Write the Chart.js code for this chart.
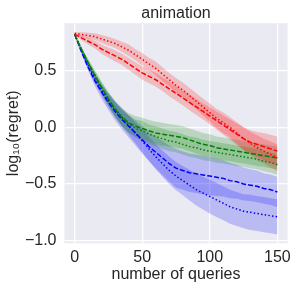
<!DOCTYPE html>
<html>
<head>
<meta charset="utf-8">
<script src="https://cdn.jsdelivr.net/npm/chart.js@4"></script>
<style>
  body { margin: 0; background: #fff; }
</style>
</head>
<body>
<canvas id="regret_chart" width="297" height="290"></canvas>
<script>
// number of queries (sampled every 5)
var queries = [0, 5, 10, 15, 20, 25, 30, 35, 40, 45, 50, 55, 60, 65, 70, 75, 80, 85, 90, 95, 100, 105, 110, 115, 120, 125, 130, 135, 140, 145, 150];

// log10(regret) means
var red_dash = [0.82, 0.79, 0.76, 0.73, 0.69, 0.66, 0.63, 0.60, 0.56, 0.52, 0.48, 0.45, 0.42, 0.38, 0.34, 0.30, 0.26, 0.22, 0.18, 0.14, 0.10, 0.06, 0.02, -0.02, -0.06, -0.10, -0.13, -0.15, -0.17, -0.19, -0.21];
var red_dot = [0.83, 0.82, 0.81, 0.80, 0.78, 0.76, 0.74, 0.71, 0.68, 0.64, 0.60, 0.56, 0.52, 0.47, 0.42, 0.37, 0.33, 0.28, 0.23, 0.18, 0.13, 0.08, 0.04, 0.00, -0.05, -0.10, -0.14, -0.18, -0.21, -0.24, -0.27];
var green_dash = [0.82, 0.69, 0.57, 0.46, 0.35, 0.25, 0.16, 0.09, 0.04, 0.01, -0.01, -0.03, -0.05, -0.06, -0.07, -0.08, -0.09, -0.11, -0.13, -0.15, -0.16, -0.18, -0.19, -0.20, -0.21, -0.22, -0.23, -0.24, -0.25, -0.26, -0.27];
var green_dot = [0.82, 0.69, 0.57, 0.46, 0.35, 0.25, 0.16, 0.08, 0.03, -0.01, -0.03, -0.06, -0.08, -0.10, -0.12, -0.13, -0.15, -0.17, -0.18, -0.20, -0.21, -0.22, -0.23, -0.24, -0.25, -0.26, -0.27, -0.28, -0.30, -0.31, -0.33];
var blue_dash = [0.82, 0.67, 0.53, 0.41, 0.31, 0.22, 0.14, 0.07, 0.01, -0.05, -0.11, -0.17, -0.22, -0.27, -0.32, -0.36, -0.38, -0.40, -0.41, -0.42, -0.43, -0.44, -0.45, -0.47, -0.48, -0.50, -0.51, -0.52, -0.54, -0.55, -0.57];
var blue_dot = [0.82, 0.68, 0.55, 0.43, 0.33, 0.24, 0.16, 0.09, 0.02, -0.05, -0.12, -0.19, -0.26, -0.32, -0.38, -0.43, -0.47, -0.51, -0.55, -0.58, -0.61, -0.64, -0.67, -0.70, -0.72, -0.74, -0.75, -0.76, -0.77, -0.78, -0.79];

// half widths of the shaded bands
var red_dash_hw = [0.01, 0.02, 0.03, 0.035, 0.04, 0.045, 0.05, 0.05, 0.055, 0.055, 0.06, 0.06, 0.06, 0.06, 0.065, 0.065, 0.065, 0.07, 0.07, 0.07, 0.075, 0.08, 0.085, 0.09, 0.095, 0.10, 0.105, 0.11, 0.12, 0.125, 0.13];
var red_dot_hw = [0.01, 0.02, 0.025, 0.03, 0.035, 0.04, 0.04, 0.045, 0.05, 0.05, 0.055, 0.055, 0.06, 0.06, 0.06, 0.065, 0.065, 0.07, 0.07, 0.075, 0.08, 0.085, 0.09, 0.09, 0.095, 0.10, 0.10, 0.11, 0.11, 0.115, 0.12];
var green_dash_hw = [0.01, 0.02, 0.03, 0.04, 0.05, 0.06, 0.07, 0.08, 0.085, 0.09, 0.095, 0.095, 0.10, 0.10, 0.10, 0.10, 0.10, 0.10, 0.10, 0.10, 0.10, 0.10, 0.10, 0.10, 0.10, 0.10, 0.10, 0.10, 0.10, 0.10, 0.10];
var green_dot_hw = [0.01, 0.02, 0.03, 0.04, 0.05, 0.06, 0.065, 0.07, 0.075, 0.08, 0.085, 0.085, 0.09, 0.09, 0.09, 0.09, 0.09, 0.09, 0.09, 0.09, 0.09, 0.09, 0.09, 0.09, 0.09, 0.09, 0.09, 0.09, 0.09, 0.09, 0.09];
var blue_dash_hw = [0.01, 0.02, 0.03, 0.045, 0.06, 0.07, 0.08, 0.09, 0.10, 0.11, 0.12, 0.13, 0.14, 0.15, 0.16, 0.17, 0.17, 0.17, 0.17, 0.17, 0.17, 0.165, 0.16, 0.155, 0.15, 0.145, 0.14, 0.14, 0.135, 0.135, 0.135];
var blue_dot_hw = [0.01, 0.02, 0.03, 0.04, 0.05, 0.06, 0.07, 0.08, 0.085, 0.09, 0.10, 0.105, 0.11, 0.115, 0.12, 0.125, 0.13, 0.135, 0.14, 0.145, 0.15, 0.15, 0.15, 0.15, 0.15, 0.15, 0.155, 0.155, 0.155, 0.155, 0.155];

var x_ticks = [0, 50, 100, 150];
var y_ticks = [-1.0, -0.5, 0.0, 0.5];

var text_color = '#262626';
var font_family = '"Liberation Sans", Arial, sans-serif';

function points(values, hw, sign) {
  return queries.map(function (q, i) {
    return { x: q, y: values[i] + sign * (hw ? hw[i] : 0) };
  });
}

function bandSets(values, hw, fill_color) {
  return [{
    data: points(values, hw, -1),
    borderWidth: 0,
    pointRadius: 0,
    fill: false,
    order: 1
  }, {
    data: points(values, hw, 1),
    borderWidth: 0,
    pointRadius: 0,
    backgroundColor: fill_color,
    fill: '-1',
    order: 1
  }];
}

function lineSet(values, color, dash) {
  return {
    data: points(values, null, 0),
    borderColor: color,
    borderWidth: 1.5,
    borderDash: dash,
    borderCapStyle: 'butt',
    pointRadius: 0,
    fill: false,
    order: 0
  };
}

var dashed = [5, 2];
var dotted = [1.5, 2.2];

var datasets = [].concat(
  bandSets(red_dash, red_dash_hw, 'rgba(255, 0, 0, 0.2)'),
  bandSets(red_dot, red_dot_hw, 'rgba(255, 0, 0, 0.2)'),
  bandSets(green_dash, green_dash_hw, 'rgba(0, 128, 0, 0.2)'),
  bandSets(green_dot, green_dot_hw, 'rgba(0, 128, 0, 0.2)'),
  bandSets(blue_dash, blue_dash_hw, 'rgba(0, 0, 255, 0.2)'),
  bandSets(blue_dot, blue_dot_hw, 'rgba(0, 0, 255, 0.2)'),
  [
    lineSet(red_dash, '#ff0000', dashed),
    lineSet(red_dot, '#ff0000', dotted),
    lineSet(green_dash, '#008000', dashed),
    lineSet(green_dot, '#008000', dotted),
    lineSet(blue_dash, '#0000ff', dashed),
    lineSet(blue_dot, '#0000ff', dotted)
  ]
);

var plotBackground = {
  id: 'plotBackground',
  beforeDraw: function (chart) {
    var a = chart.chartArea;
    var ctx = chart.ctx;
    ctx.save();
    ctx.fillStyle = '#eaeaf2';
    ctx.fillRect(a.left, a.top, a.right - a.left, a.bottom - a.top);
    ctx.restore();
  }
};

var regret_ctx = document.getElementById('regret_chart').getContext('2d');
var regret_chart = new Chart(regret_ctx, {
  type: 'line',
  data: { datasets: datasets },
  plugins: [plotBackground],
  options: {
    responsive: false,
    animation: false,
    layout: { padding: { top: 0, right: 9.5, bottom: 0, left: 0 } },
    plugins: {
      legend: { display: false },
      tooltip: { enabled: false },
      title: {
        display: true,
        fullSize: false,
        text: 'animation',
        color: text_color,
        font: { family: font_family, size: 16, weight: 'normal' },
        padding: { top: 4, bottom: 0 }
      }
    },
    scales: {
      x: {
        type: 'linear',
        min: -7.5,
        max: 157.5,
        afterBuildTicks: function (scale) {
          scale.ticks = x_ticks.map(function (v) { return { value: v }; });
        },
        afterFit: function (scale) { scale.height = 46.7; },
        grid: { color: '#ffffff', lineWidth: 1.3, drawTicks: false },
        border: { display: false },
        ticks: {
          color: text_color,
          padding: 5,
          maxRotation: 0,
          font: { family: font_family, size: 16 }
        },
        title: {
          display: true,
          text: 'number of queries',
          color: text_color,
          font: { family: font_family, size: 16 },
          padding: { top: 0, bottom: 5.4 }
        }
      },
      y: {
        type: 'linear',
        min: -1.023,
        max: 0.919,
        afterBuildTicks: function (scale) {
          scale.ticks = y_ticks.map(function (v) { return { value: v }; });
        },
        afterFit: function (scale) { scale.width = 64.5; },
        grid: { color: '#ffffff', lineWidth: 1.3, drawTicks: false },
        border: { display: false },
        ticks: {
          color: text_color,
          padding: 8,
          font: { family: font_family, size: 16 },
          callback: function (v) {
            return (v < 0 ? '\u2212' : '') + Math.abs(v).toFixed(1);
          }
        },
        title: {
          display: true,
          text: 'log\u2081\u2080(regret)',
          color: text_color,
          font: { family: font_family, size: 16 },
          padding: { top: 4.4, bottom: 0 }
        }
      }
    }
  }
});
</script>
</body>
</html>
